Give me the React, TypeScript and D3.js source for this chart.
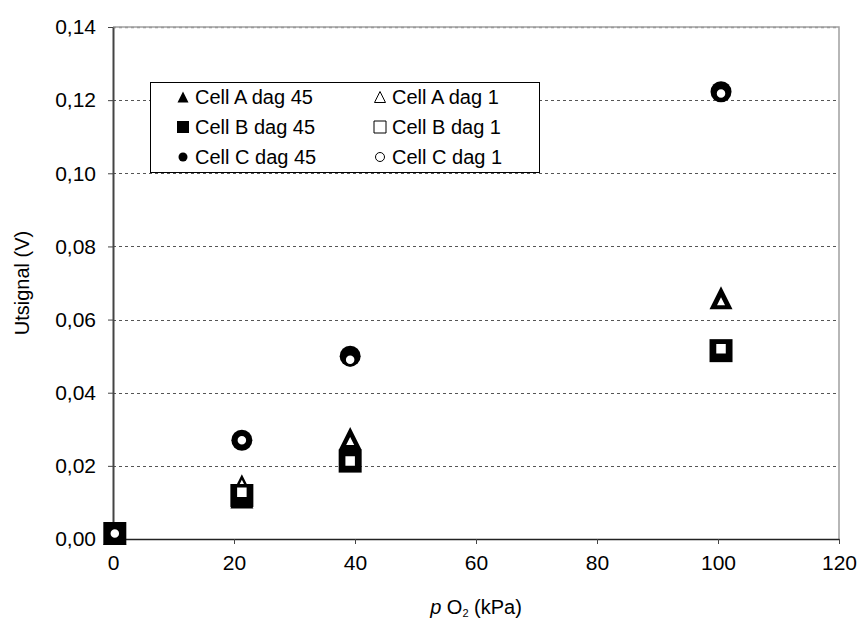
import { useEffect, useRef } from 'react';
import * as d3 from 'd3';

// p O2 (kPa) for each measurement
const pO2 = [0.3, 21.3, 39.2, 100.5];

const cellA45 = [0.0015, 0.0115, 0.0275, 0.066];
const cellA1 = [0.0015, 0.0153, 0.027, 0.0652];
const cellB45 = [0.0015, 0.0119, 0.0213, 0.0515];
const cellB1 = [0.0015, 0.0128, 0.0213, 0.052];
const cellC45 = [0.0015, 0.027, 0.050, 0.1223];
const cellC1 = [0.0015, 0.027, 0.049, 0.1218];

const xTicks = [0, 20, 40, 60, 80, 100, 120];
const yTicks = [0, 0.02, 0.04, 0.06, 0.08, 0.1, 0.12, 0.14];

const series = [
  { name: 'Cell A dag 45', values: cellA45, shape: 'triangle', filled: true },
  { name: 'Cell A dag 1', values: cellA1, shape: 'triangle', filled: false },
  { name: 'Cell B dag 45', values: cellB45, shape: 'square', filled: true },
  { name: 'Cell B dag 1', values: cellB1, shape: 'square', filled: false },
  { name: 'Cell C dag 45', values: cellC45, shape: 'circle', filled: true },
  { name: 'Cell C dag 1', values: cellC1, shape: 'circle', filled: false },
];

const FONT = 'Liberation Sans, Arial, Helvetica, sans-serif';

// bbox-centred marker path, w = width of the marker
function markerPath(shape: string, w: number) {
  const h = w / 2;
  if (shape === 'square') return `M${-h},${-h}H${h}V${h}H${-h}Z`;
  if (shape === 'triangle') return `M0,${-h}L${h},${h}L${-h},${h}Z`;
  return `M${h},0A${h},${h} 0 1,1 ${-h},0A${h},${h} 0 1,1 ${h},0Z`;
}

export default function App() {
  const ref = useRef<SVGSVGElement>(null);

  useEffect(() => {
    if (!ref.current) return;
    const svg = d3.select(ref.current);
    svg.selectAll('*').remove();

    const left = 113, right = 839, top = 27, bottom = 539;
    const x = d3.scaleLinear().domain([0, 120]).range([left, right]);
    const y = d3.scaleLinear().domain([0, 0.14]).range([bottom, top]);
    const fmt = (v: number) => v.toFixed(2).replace('.', ',');

    // plot border (grey) on top and right
    svg.append('path')
      .attr('d', `M${left},${top}H${right}V${bottom}`)
      .attr('fill', 'none')
      .attr('stroke', '#a0a0a0')
      .attr('stroke-width', 1.5);

    // dotted gridlines
    svg.append('g')
      .selectAll('line')
      .data(yTicks.filter((t) => t > 0))
      .join('line')
      .attr('x1', left)
      .attr('x2', right)
      .attr('y1', (d) => Math.round(y(d)) + 0.5)
      .attr('y2', (d) => Math.round(y(d)) + 0.5)
      .attr('stroke', (d) => (d === 0.14 ? '#999' : '#555'))
      .attr('stroke-width', (d) => (d === 0.14 ? 1.5 : 1))
      .attr('stroke-dasharray', '3 3');

    // y axis
    const ya = svg.append('g').attr('transform', `translate(${left},0)`)
      .call(d3.axisLeft(y).tickValues(yTicks).tickFormat(fmt).tickSize(5).tickSizeOuter(0));
    ya.select('.domain').attr('stroke', '#444').attr('stroke-width', 2);
    ya.selectAll('.tick line').attr('stroke', '#444');
    ya.selectAll('.tick text')
      .attr('font-family', FONT)
      .attr('font-size', 21)
      .attr('fill', '#000')
      .attr('x', -17);

    // x axis
    const xa = svg.append('g').attr('transform', `translate(0,${bottom})`)
      .call(d3.axisBottom(x).tickValues(xTicks).tickSize(5).tickSizeOuter(0));
    xa.select('.domain').attr('stroke', '#222').attr('stroke-width', 1.5);
    xa.selectAll('.tick line').attr('stroke', '#444');
    xa.selectAll('.tick text')
      .attr('font-family', FONT)
      .attr('font-size', 21)
      .attr('fill', '#000')
      .attr('y', 16);

    // markers in series order
    series.forEach((s) => {
      svg.append('g')
        .selectAll('path')
        .data(s.values)
        .join('path')
        .attr('transform', (d, i) => `translate(${x(pO2[i])},${y(d)})`)
        .attr('d', s.filled ? markerPath(s.shape, s.shape === 'circle' ? 21 : 23) : markerPath(s.shape, s.shape === 'circle' ? 11 : 12))
        .attr('fill', s.filled ? '#000' : '#fff')
        .attr('stroke', '#000')
        .attr('stroke-width', s.filled ? 0 : 2.5);
    });

    // legend
    const lg = svg.append('g');
    lg.append('rect')
      .attr('x', 150.5)
      .attr('y', 82.5)
      .attr('width', 389)
      .attr('height', 90)
      .attr('fill', '#fff')
      .attr('stroke', '#000');
    series.forEach((s, i) => {
      const col = i % 2, row = Math.floor(i / 2);
      const mx = col === 0 ? 183 : 380;
      const my = 97 + row * 30;
      lg.append('path')
        .attr('transform', `translate(${mx},${my})`)
        .attr('d', markerPath(s.shape, s.shape === 'square' ? 12 : s.shape === 'circle' ? 9 : 11))
        .attr('fill', s.filled ? '#000' : '#fff')
        .attr('stroke', '#000')
        .attr('stroke-width', s.filled ? 0 : 1);
      lg.append('text')
        .attr('x', mx + 12)
        .attr('y', my + 7)
        .attr('font-family', FONT)
        .attr('font-size', 20)
        .text(s.name);
    });

    // axis titles
    svg.append('text')
      .attr('transform', `translate(29,${(top + bottom) / 2}) rotate(-90)`)
      .attr('text-anchor', 'middle')
      .attr('font-family', FONT)
      .attr('font-size', 20)
      .text('Utsignal (V)');

    const xt = svg.append('text')
      .attr('x', (left + right) / 2)
      .attr('y', 614)
      .attr('text-anchor', 'middle')
      .attr('font-family', FONT)
      .attr('font-size', 20);
    xt.append('tspan').attr('font-style', 'italic').text('p');
    xt.append('tspan').text(' O');
    xt.append('tspan').attr('font-size', 11).attr('dy', 3).text('2');
    xt.append('tspan').attr('dy', -3).text(' (kPa)');
  }, []);

  return (
    <svg
      ref={ref}
      width={862}
      height={624}
      style={{ position: 'absolute', left: 0, top: 0, background: '#fff' }}
    />
  );
}
